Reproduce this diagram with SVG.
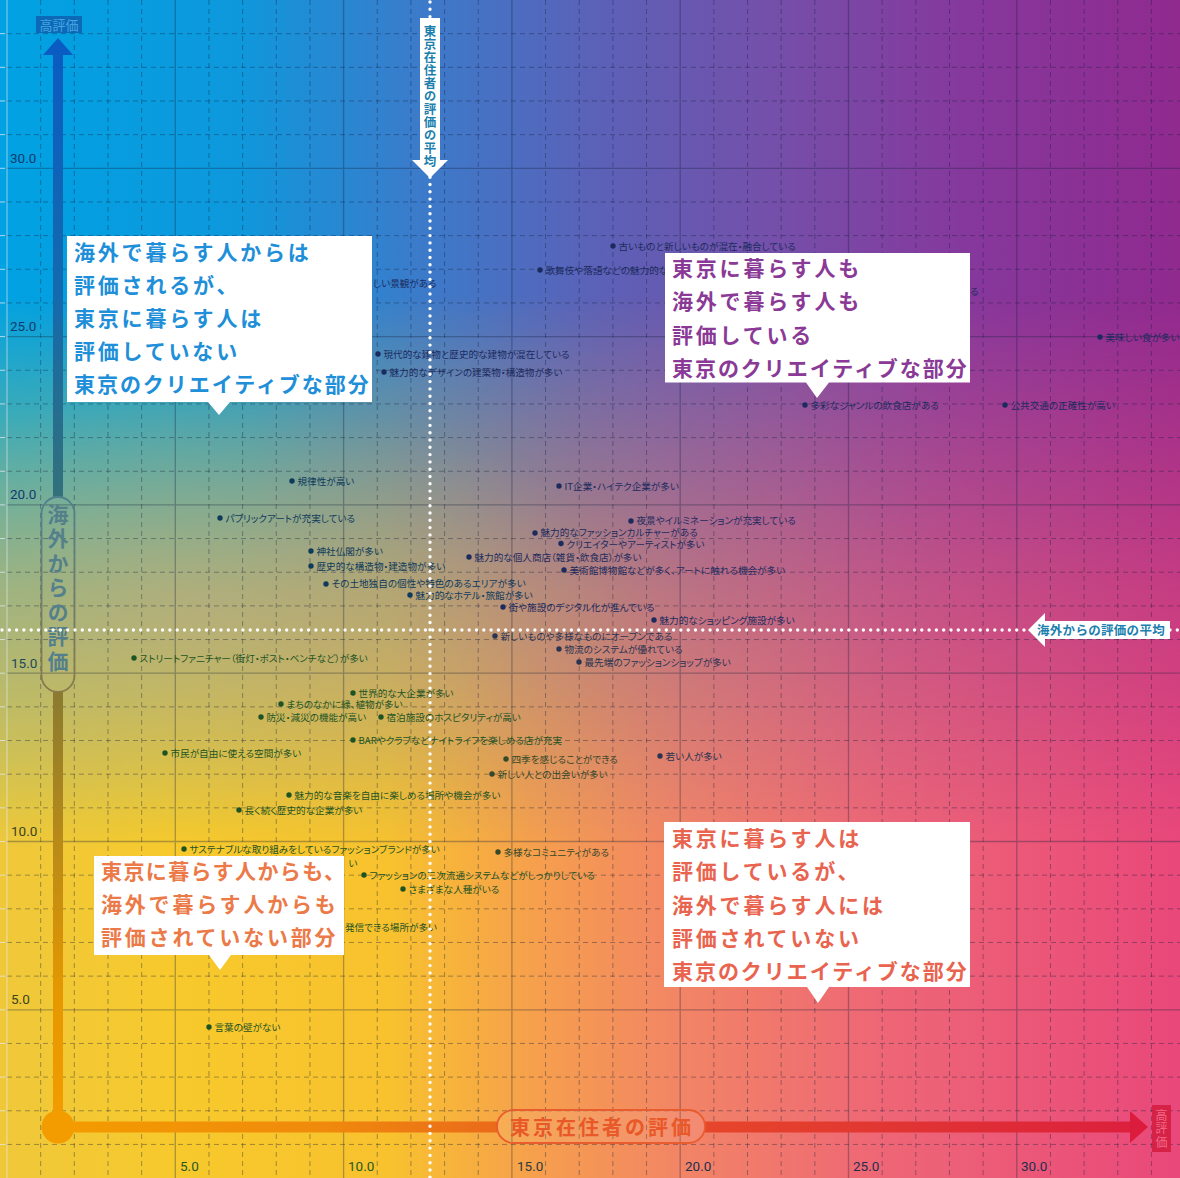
<svg xmlns="http://www.w3.org/2000/svg" width="1180" height="1178" viewBox="0 0 1180 1178">
<defs>
<linearGradient id="gTop" x1="0" y1="0" x2="1" y2="0">
<stop offset="0" stop-color="#00a2e3"/><stop offset="0.2" stop-color="#0e98dc"/><stop offset="0.35" stop-color="#3a7ccb"/><stop offset="0.5" stop-color="#5a62b8"/><stop offset="0.65" stop-color="#7450aa"/><stop offset="0.82" stop-color="#86389c"/><stop offset="1" stop-color="#902a8f"/>
</linearGradient>
<linearGradient id="gBot" x1="0" y1="0" x2="1" y2="0">
<stop offset="0" stop-color="#efc83a"/><stop offset="0.15" stop-color="#f7c92c"/><stop offset="0.33" stop-color="#f8c22e"/><stop offset="0.45" stop-color="#f6a04c"/><stop offset="0.58" stop-color="#f28466"/><stop offset="0.75" stop-color="#ee6676"/><stop offset="1" stop-color="#e9487a"/>
</linearGradient>
<linearGradient id="gV" x1="0" y1="0" x2="0" y2="1">
<stop offset="0.25" stop-color="#000"/><stop offset="0.5" stop-color="#9a9a9a"/><stop offset="0.72" stop-color="#fff"/>
</linearGradient>
<mask id="mB" maskUnits="userSpaceOnUse" x="0" y="0" width="1180" height="1178"><rect width="1180" height="1178" fill="url(#gV)"/></mask>
<radialGradient id="gWarm" gradientUnits="userSpaceOnUse" cx="200" cy="610" r="430" gradientTransform="translate(200 610) scale(1 0.5) translate(-200 -610)">
<stop offset="0" stop-color="#d4a090" stop-opacity=".38"/><stop offset="0.6" stop-color="#d4a090" stop-opacity=".15"/><stop offset="1" stop-color="#d4a090" stop-opacity="0"/>
</radialGradient>
<linearGradient id="gY1" gradientUnits="userSpaceOnUse" x1="0" y1="40" x2="0" y2="497">
<stop offset="0" stop-color="#0a5cc2"/><stop offset="0.55" stop-color="#146aae"/><stop offset="1" stop-color="#33707a"/>
</linearGradient>
<linearGradient id="gY2" gradientUnits="userSpaceOnUse" x1="0" y1="692" x2="0" y2="1127">
<stop offset="0" stop-color="#8a7a30"/><stop offset="0.35" stop-color="#b98a18"/><stop offset="0.7" stop-color="#e69800"/><stop offset="1" stop-color="#f39c00"/>
</linearGradient>
<linearGradient id="gYP" gradientUnits="userSpaceOnUse" x1="0" y1="497" x2="0" y2="692">
<stop offset="0" stop-color="#4f8090"/><stop offset="1" stop-color="#8a7a48"/>
</linearGradient>
<linearGradient id="gX1" gradientUnits="userSpaceOnUse" x1="58" y1="0" x2="497" y2="0">
<stop offset="0" stop-color="#f39c00"/><stop offset="0.6" stop-color="#f08a0c"/><stop offset="1" stop-color="#ea6a1a"/>
</linearGradient>
<linearGradient id="gX2" gradientUnits="userSpaceOnUse" x1="705" y1="0" x2="1148" y2="0">
<stop offset="0" stop-color="#e6462a"/><stop offset="0.5" stop-color="#e03234"/><stop offset="1" stop-color="#dc1e3e"/>
</linearGradient>
</defs>
<style>
.lb{font-family:"Noto Sans CJK JP","Noto Sans CJK SC",sans-serif;font-size:9.6px;font-feature-settings:"palt"}
.N{fill:#1c2b5e}.T{fill:#0e3a5c}.G{fill:#1e5424}.P{fill:#2a3352}.O{fill:#34482a}
.co{font-family:"Noto Sans CJK JP","Noto Sans CJK SC",sans-serif;font-size:21px;font-weight:700;letter-spacing:2.8px}
.kt{letter-spacing:1.95px}
.num{font-family:Roboto,"Liberation Sans",sans-serif;font-size:13.5px}
.dash{stroke:#14203c;stroke-opacity:.38;stroke-width:1;stroke-dasharray:5 4;fill:none}
.solid{stroke:#14203c;stroke-opacity:.32;stroke-width:1.3;fill:none}
.dotl{fill:none;stroke:#fff;stroke-width:3.4;stroke-linecap:round;stroke-dasharray:0 7.3}
.ml{font-family:"Noto Sans CJK JP","Noto Sans CJK SC",sans-serif;font-size:12.5px;font-weight:700;fill:#1c7fae}
.vt{writing-mode:vertical-rl}
.box{fill:#fff}
</style>

<g id="background">
<rect width="1180" height="1178" fill="url(#gTop)"/>
<rect width="1180" height="1178" fill="url(#gBot)" mask="url(#mB)"/>
<rect width="1180" height="1178" fill="url(#gWarm)"/>
</g>

<g id="grid">
<path class="dash" d="M40.66 0V1178M74.32 0V1178M107.98 0V1178M141.64 0V1178M208.96 0V1178M242.62 0V1178M276.28 0V1178M309.94 0V1178M377.26 0V1178M410.92 0V1178M444.58 0V1178M478.24 0V1178M545.56 0V1178M579.22 0V1178M612.88 0V1178M646.54 0V1178M713.86 0V1178M747.52 0V1178M781.18 0V1178M814.84 0V1178M882.16 0V1178M915.82 0V1178M949.48 0V1178M983.14 0V1178M1050.46 0V1178M1084.12 0V1178M1117.78 0V1178M1151.44 0V1178"/>
<path class="dash" d="M7 1144.44H1180M7 1110.78H1180M7 1077.12H1180M7 1043.46H1180M7 976.14H1180M7 942.48H1180M7 908.82H1180M7 875.16H1180M7 807.84H1180M7 774.18H1180M7 740.52H1180M7 706.86H1180M7 639.54H1180M7 605.88H1180M7 572.22H1180M7 538.56H1180M7 471.24H1180M7 437.58H1180M7 403.92H1180M7 370.26H1180M7 302.94H1180M7 269.28H1180M7 235.62H1180M7 201.96H1180M7 134.64H1180M7 100.98H1180M7 67.32H1180M7 33.66H1180"/>
<path class="solid" d="M175.3 0V1178M343.6 0V1178M511.9 0V1178M680.2 0V1178M848.5 0V1178M1016.8 0V1178M7 1009.8H1180M7 841.5H1180M7 673.2H1180M7 504.9H1180M7 336.6H1180M7 168.3H1180"/>
<path d="M7 0V1178" stroke="#e8eef4" stroke-opacity=".6" stroke-width="1"/>
<path d="M0 1144.44H5M0 1110.78H5M0 1077.12H5M0 1043.46H5M0 1009.8H5M0 976.14H5M0 942.48H5M0 908.82H5M0 875.16H5M0 841.5H5M0 807.84H5M0 774.18H5M0 740.52H5M0 706.86H5M0 673.2H5M0 639.54H5M0 605.88H5M0 572.22H5M0 538.56H5M0 504.9H5M0 471.24H5M0 437.58H5M0 403.92H5M0 370.26H5M0 336.6H5M0 302.94H5M0 269.28H5M0 235.62H5M0 201.96H5M0 168.3H5M0 134.64H5M0 100.98H5M0 67.32H5M0 33.66H5" stroke="#dfe6ee" stroke-opacity=".8" stroke-width="1"/>
</g>

<g id="tick-labels" class="num">
<text x="10" y="162.8" fill="#143a6e">30.0</text>
<text x="10" y="331.1" fill="#143a6e">25.0</text>
<text x="10" y="499.4" fill="#143a6e">20.0</text>
<text x="11" y="667.7" fill="#1c4a58">15.0</text>
<text x="11" y="836" fill="#3a4420">10.0</text>
<text x="11" y="1004.3" fill="#3a4420">5.0</text>
<text x="180" y="1170.5" fill="#1f5a1f">5.0</text>
<text x="348" y="1170.5" fill="#1f5a1f">10.0</text>
<text x="517" y="1170.5" fill="#2a3a3a">15.0</text>
<text x="685" y="1170.5" fill="#1e2e4e">20.0</text>
<text x="853" y="1170.5" fill="#1e2e4e">25.0</text>
<text x="1021" y="1170.5" fill="#1e2e4e">30.0</text>
</g>

<g id="y-axis">
<rect x="53" y="54" width="10" height="443" fill="url(#gY1)"/>
<path d="M43 55H73L58 38Z" fill="#0a5cc2"/>
<rect x="53" y="692" width="10" height="435" fill="url(#gY2)"/>
<rect x="41.5" y="497" width="33" height="195" rx="16.5" fill="none" stroke="url(#gYP)" stroke-width="1.8"/>
<text class="vt" x="58" y="503.5" font-family="'Noto Sans CJK JP','Noto Sans CJK SC',sans-serif" font-size="21" font-weight="700" letter-spacing="3.5" fill="url(#gYP)">海外からの評価</text>
<rect x="36" y="16" width="46" height="17" fill="#0d5fb0" fill-opacity=".85"/>
<text x="59" y="29.5" font-family="'Noto Sans CJK JP','Noto Sans CJK SC',sans-serif" font-size="13" fill="#45a6e2" text-anchor="middle">高評価</text>
</g>

<g id="x-axis">
<rect x="58" y="1121.5" width="439" height="11" fill="url(#gX1)"/>
<rect x="705" y="1121.5" width="425" height="11" fill="url(#gX2)"/>
<path d="M1130 1111V1143L1148 1127Z" fill="#dc1c3c"/>
<circle cx="58" cy="1127" r="16.5" fill="#f39c00"/>
<rect x="497" y="1110" width="208" height="33" rx="16.5" fill="#fff" fill-opacity=".08" stroke="#e95c2e" stroke-width="1.8"/>
<text x="602" y="1134.6" font-family="'Noto Sans CJK JP','Noto Sans CJK SC',sans-serif" font-size="20" font-weight="700" letter-spacing="3" fill="#e85828" text-anchor="middle">東京在住者の評価</text>
<rect x="1152" y="1105" width="19" height="47" fill="#d41e40" fill-opacity=".9"/>
<text class="vt" x="1161.5" y="1109" font-family="'Noto Sans CJK JP','Noto Sans CJK SC',sans-serif" font-size="12" letter-spacing="1.5" fill="#f26a88">高評価</text>
</g>

<g id="points">
<g class="N">
<circle cx="613" cy="246" r="2.7"/><circle cx="540" cy="270" r="2.7"/><circle cx="378" cy="354" r="2.7"/><circle cx="384" cy="372" r="2.7"/><circle cx="1100" cy="337" r="2.7"/><circle cx="805" cy="405" r="2.7"/><circle cx="1005" cy="405" r="2.7"/><circle cx="559" cy="486" r="2.7"/><circle cx="631" cy="521" r="2.7"/><circle cx="535" cy="533" r="2.7"/><circle cx="561" cy="543.5" r="2.7"/><circle cx="469" cy="557" r="2.7"/><circle cx="564" cy="570" r="2.7"/><circle cx="503" cy="607" r="2.7"/><circle cx="654" cy="620" r="2.7"/>
</g>
<g class="T">
<circle cx="292" cy="481" r="2.7"/><circle cx="220" cy="518" r="2.7"/><circle cx="311" cy="551" r="2.7"/><circle cx="311" cy="566" r="2.7"/><circle cx="326" cy="584" r="2.7"/><circle cx="410" cy="595" r="2.7"/>
</g>
<g class="P">
<circle cx="495" cy="636" r="2.7"/><circle cx="559" cy="649" r="2.7"/><circle cx="579" cy="662" r="2.7"/><circle cx="660" cy="756" r="2.7"/>
</g>
<g class="O">
<circle cx="506" cy="759" r="2.7"/><circle cx="492" cy="774" r="2.7"/><circle cx="498" cy="852" r="2.7"/>
</g>
<g class="G">
<circle cx="134" cy="658" r="2.7"/><circle cx="353" cy="693" r="2.7"/><circle cx="281" cy="704" r="2.7"/><circle cx="261" cy="717" r="2.7"/><circle cx="381" cy="717" r="2.7"/><circle cx="353" cy="740" r="2.7"/><circle cx="165" cy="753" r="2.7"/><circle cx="289" cy="795" r="2.7"/><circle cx="239" cy="810" r="2.7"/><circle cx="184" cy="849" r="2.7"/><circle cx="364" cy="875" r="2.7"/><circle cx="403" cy="889" r="2.7"/><circle cx="209" cy="1027" r="2.7"/>
</g>
<text class="lb N" x="618.5" y="249.5">古いものと新しいものが混在・融合している</text>
<text class="lb N" x="545.5" y="273.5">歌舞伎や落語などの魅力的な</text>
<text class="lb N" x="373" y="286.5">しい景観がある</text>
<text class="lb N" x="970" y="294.5">る</text>
<text class="lb N" x="383.5" y="357.5">現代的な建物と歴史的な建物が混在している</text>
<text class="lb N" x="389.5" y="375.5">魅力的なデザインの建築物・構造物が多い</text>
<text class="lb N" x="1105.5" y="340.5">美味しい食が多い</text>
<text class="lb N" x="810.5" y="408.5">多彩なジャンルの飲食店がある</text>
<text class="lb N" x="1010.5" y="408.5">公共交通の正確性が高い</text>
<text class="lb T" x="297.5" y="484.5">規律性が高い</text>
<text class="lb N" x="564.5" y="489.5">IT企業・ハイテク企業が多い</text>
<text class="lb T" x="225.5" y="521.5">パブリックアートが充実している</text>
<text class="lb N" x="636.5" y="524">夜景やイルミネーションが充実している</text>
<text class="lb N" x="540.5" y="536">魅力的なファッションカルチャーがある</text>
<text class="lb N" x="566.5" y="547.5">クリエイターやアーティストが多い</text>
<text class="lb T" x="316.5" y="554.5">神社仏閣が多い</text>
<text class="lb N" x="474.5" y="560.5">魅力的な個人商店（雑貨・飲食店）が多い</text>
<text class="lb T" x="316.5" y="569.5">歴史的な構造物・建造物が多い</text>
<text class="lb N" x="569.5" y="573.5">美術館博物館などが多く、アートに触れる機会が多い</text>
<text class="lb T" x="331.5" y="587">その土地独自の個性や特色のあるエリアが多い</text>
<text class="lb T" x="415.5" y="598.8">魅力的なホテル・旅館が多い</text>
<text class="lb N" x="508.5" y="610.5">街や施設のデジタル化が進んでいる</text>
<text class="lb N" x="659.5" y="623.5">魅力的なショッピング施設が多い</text>
<text class="lb P" x="500.5" y="639.5">新しいものや多様なものにオープンである</text>
<text class="lb P" x="564.5" y="652.5">物流のシステムが優れている</text>
<text class="lb P" x="584.5" y="665.5">最先端のファッションショップが多い</text>
<text class="lb G" x="139.5" y="661.5">ストリートファニチャー（街灯・ポスト・ベンチなど）が多い</text>
<text class="lb G" x="358.5" y="696.5">世界的な大企業が多い</text>
<text class="lb G" x="286.5" y="707.5">まちのなかに緑、植物が多い</text>
<text class="lb G" x="266.5" y="720.5">防災・減災の機能が高い</text>
<text class="lb G" x="386.5" y="720.5">宿泊施設のホスピタリティが高い</text>
<text class="lb G" x="358.5" y="743.5">BARやクラブなどナイトライフを楽しめる店が充実</text>
<text class="lb G" x="170.5" y="756.5">市民が自由に使える空間が多い</text>
<text class="lb P" x="665.5" y="759.5">若い人が多い</text>
<text class="lb O" x="511.5" y="762.5">四季を感じることができる</text>
<text class="lb O" x="497.5" y="777.5">新しい人との出会いが多い</text>
<text class="lb G" x="294.5" y="798.5">魅力的な音楽を自由に楽しめる場所や機会が多い</text>
<text class="lb G" x="244.5" y="813.5">長く続く歴史的な企業が多い</text>
<text class="lb G" x="189.5" y="852.5">サステナブルな取り組みをしているファッションブランドが多い</text>
<text class="lb O" x="503.5" y="855.5">多様なコミュニティがある</text>
<text class="lb G" x="348.5" y="866.5">い</text>
<text class="lb G" x="369.5" y="878.5">ファッションの二次流通システムなどがしっかりしている</text>
<text class="lb G" x="408.5" y="892.5">さまざまな人種がいる</text>
<text class="lb G" x="345" y="930.5">発信できる場所が多い</text>
<text class="lb G" x="214.5" y="1030.5">言葉の壁がない</text>
</g>

<g id="callout-a">
<path class="box" d="M67 236H372V402H230L219 415L208 402H67Z"/>
<text class="co" fill="#1e8fd8"><tspan x="74" y="260">海外で暮らす人からは</tspan><tspan x="74" y="293">評価されるが、</tspan><tspan x="74" y="326">東京に暮らす人は</tspan><tspan x="74" y="359">評価していない</tspan><tspan class="kt" x="74" y="392">東京のクリエイティブな部分</tspan></text>
</g>
<g id="callout-b">
<path class="box" d="M665 253H970V382.5H829L817 398L806 382.5H665Z"/>
<text class="co" fill="#8a3a96"><tspan x="672" y="276">東京に暮らす人も</tspan><tspan x="672" y="309">海外で暮らす人も</tspan><tspan x="672" y="343">評価している</tspan><tspan class="kt" x="672" y="376">東京のクリエイティブな部分</tspan></text>
</g>
<g id="callout-c">
<path class="box" d="M94 856H344V955H231L220 970L209 955H94Z"/>
<text class="co" fill="#ec7a48"><tspan x="101" y="879" letter-spacing="1.4">東京に暮らす人からも、</tspan><tspan x="101" y="912">海外で暮らす人からも</tspan><tspan x="101" y="945">評価されていない部分</tspan></text>
</g>
<g id="callout-d">
<path class="box" d="M664 822H970V987H829L818 1003L807 987H664Z"/>
<text class="co" fill="#e9644f"><tspan x="672" y="846">東京に暮らす人は</tspan><tspan x="672" y="879">評価しているが、</tspan><tspan x="672" y="913">海外で暮らす人には</tspan><tspan x="672" y="946">評価されていない</tspan><tspan class="kt" x="672" y="979">東京のクリエイティブな部分</tspan></text>
</g>

<g id="mean-lines">
<path class="dotl" d="M430 2V1178"/>
<path class="dotl" d="M2 630H1180"/>
</g>

<g id="mean-x-label">
<path class="box" d="M420 18H440V160H448L430 178L412 160H420Z"/>
<text class="ml vt" x="430" y="24.8" letter-spacing="0.5">東京在住者の評価の平均</text>
</g>
<g id="mean-y-label">
<path class="box" d="M1028 630L1045 613V621H1170V639H1045V647Z"/>
<text class="ml" x="1037" y="634.7" letter-spacing="0.3">海外からの評価の平均</text>
</g>
</svg>
